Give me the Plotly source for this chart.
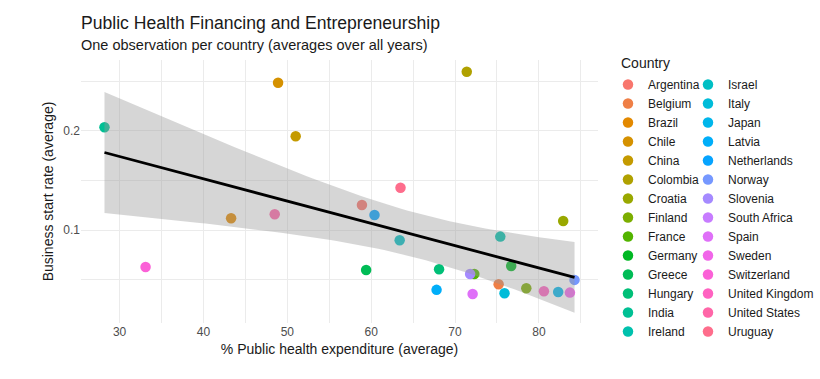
import math
import numpy as np
import plotly.graph_objects as go

# ---------------- data ----------------
countries = ["Argentina", "Belgium", "Brazil", "Chile", "China", "Colombia", "Croatia",
             "Finland", "France", "Germany", "Greece", "Hungary", "India", "Ireland",
             "Israel", "Italy", "Japan", "Latvia", "Netherlands", "Norway", "Slovenia",
             "South Africa", "Spain", "Sweden", "Switzerland", "United Kingdom",
             "United States", "Uruguay"]
health_exp = [58.9, 75.2, 43.3, 48.9, 51.0, 71.4, 82.9,
              78.5, 72.3, 76.7, 59.4, 68.1, 28.2, 75.4,
              63.4, 75.9, 82.3, 67.8, 60.4, 84.25, 71.8,
              None, 72.1, 83.7, 33.1, 80.6,
              48.5, 63.5]
start_rate = [0.1255, 0.0456, 0.1121, 0.2486, 0.1947, 0.2597, 0.1094,
              0.0416, 0.0560, 0.0640, 0.0600, 0.0607, 0.2037, 0.0936,
              0.0900, 0.0365, 0.0379, 0.0400, 0.1154, 0.0500, 0.0560,
              None, 0.0358, 0.0372, 0.0630, 0.0386,
              0.1161, 0.1429]
x_ticks = [30, 40, 50, 60, 70, 80]
y_ticks = [0.1, 0.2]
y_tick_labels = ["0.1", "0.2"]

FONT = "Liberation Sans, Arial, sans-serif"


# ggplot2 default hue palette (hcl, c=100, l=65)
def hcl_hex(h, c=100.0, l=65.0):
    Xn, Yn, Zn = 95.047, 100.0, 108.883
    un = 4 * Xn / (Xn + 15 * Yn + 3 * Zn)
    vn = 9 * Yn / (Xn + 15 * Yn + 3 * Zn)
    hr = math.radians(h)
    u, v = c * math.cos(hr), c * math.sin(hr)
    Y = Yn * ((l + 16) / 116) ** 3
    up = u / (13 * l) + un
    vp = v / (13 * l) + vn
    X = 9.0 * Y * up / (4 * vp)
    Z = -X / 3 - 5 * Y + 3 * Y / vp
    X, Y, Z = X / 100, Y / 100, Z / 100
    r = 3.240479 * X - 1.537150 * Y - 0.498535 * Z
    g = -0.969256 * X + 1.875992 * Y + 0.041556 * Z
    b = 0.055648 * X - 0.204043 * Y + 1.057311 * Z

    def gam(t):
        t = 12.92 * t if t <= 0.0031308 else 1.055 * t ** (1 / 2.4) - 0.055
        return int(round(max(0, min(1, t)) * 255))
    return "#%02X%02X%02X" % (gam(r), gam(g), gam(b))


n = len(countries)
hues = np.linspace(15, 375, n + 1)[:-1]
colors = [hcl_hex(h % 360) for h in hues]

# ---------------- linear fit with 95% CI ----------------
xs = np.array([a for a, b in zip(health_exp, start_rate) if a is not None and b is not None])
ys = np.array([b for a, b in zip(health_exp, start_rate) if a is not None and b is not None])
m = len(xs)
xbar = xs.mean()
sxx = ((xs - xbar) ** 2).sum()
slope = ((xs - xbar) * (ys - ys.mean())).sum() / sxx
icpt = ys.mean() - slope * xbar
resid = ys - (icpt + slope * xs)
s = math.sqrt((resid ** 2).sum() / (m - 2))


def t_quantile(p, df):
    def pdf(t):
        return math.gamma((df + 1) / 2) / (math.sqrt(df * math.pi) * math.gamma(df / 2)) * (1 + t * t / df) ** (-(df + 1) / 2)
    lo, hi = 0.0, 10.0
    for _ in range(60):
        mid = (lo + hi) / 2
        grid = np.linspace(0, mid, 2001)
        cdf = 0.5 + np.trapezoid([pdf(t) for t in grid], grid)
        if cdf < p:
            lo = mid
        else:
            hi = mid
    return (lo + hi) / 2


tq = t_quantile(0.975, m - 2)
xfit = np.linspace(xs.min(), xs.max(), 80)
yfit = icpt + slope * xfit
se = s * np.sqrt(1 / m + (xfit - xbar) ** 2 / sxx)
upper = yfit + tq * se
lower = yfit - tq * se

# ---------------- figure ----------------
fig = go.Figure()
for i, (c, xv, yv) in enumerate(zip(countries, health_exp, start_rate)):
    fig.add_trace(go.Scatter(
        x=[xv], y=[yv], mode="markers", name=c,
        marker=dict(color=colors[i], size=10.5, line=dict(width=0)),
        legend="legend" if i < 14 else "legend2",
        legendgroup=c,
        hovertemplate=c + "<br>%{x}<br>%{y}<extra></extra>",
    ))

fig.add_trace(go.Scatter(
    x=np.concatenate([xfit, xfit[::-1]]), y=np.concatenate([upper, lower[::-1]]),
    fill="toself", fillcolor="rgba(153,153,153,0.4)", line=dict(width=0),
    mode="lines", showlegend=False, hoverinfo="skip"))
fig.add_trace(go.Scatter(
    x=xfit, y=yfit, mode="lines", line=dict(color="black", width=2.8),
    showlegend=False, hoverinfo="skip"))

L, R, T, B = 81, 222, 60, 56
pw = 820 - L - R
ph = 379 - T - B


def px_x(p):
    return (p - L) / pw


def px_y(p):
    return 1 - (p - T) / ph


legend_common = dict(
    bgcolor="rgba(0,0,0,0)", borderwidth=0,
    font=dict(family=FONT, size=12, color="#1A1A1A"),
    xanchor="left", yanchor="top", tracegroupgap=0,
    itemclick=False, itemdoubleclick=False, maxheight=320,
)

fig.update_layout(
    width=820, height=379,
    margin=dict(l=L, r=R, t=T, b=B, autoexpand=False),
    paper_bgcolor="white", plot_bgcolor="white",
    font=dict(family=FONT, color="#1A1A1A"),
    title=dict(text="Public Health Financing and Entrepreneurship",
               x=L / 820, xanchor="left", xref="container",
               y=1 - 22.5 / 379, yanchor="middle", yref="container",
               font=dict(size=17.6, family=FONT, color="#1A1A1A")),
    annotations=[
        dict(text="One observation per country (averages over all years)",
             x=px_x(78.5), y=px_y(44.5), xref="paper", yref="paper",
             xanchor="left", yanchor="middle", showarrow=False,
             font=dict(size=14.5, family=FONT, color="#1A1A1A")),
        dict(text="Country", x=px_x(619), y=px_y(62.5), xref="paper", yref="paper",
             xanchor="left", yanchor="middle", showarrow=False,
             font=dict(size=14, family=FONT, color="#1A1A1A")),
    ],
    legend=dict(x=px_x(608), y=px_y(70), **legend_common),
    legend2=dict(x=px_x(688), y=px_y(70), **legend_common),
    xaxis=dict(
        range=[25.4, 87.05], tickvals=x_ticks, ticktext=[str(v) for v in x_ticks],
        showgrid=True, gridcolor="#EBEBEB", gridwidth=1.1, zeroline=False,
        showline=False, ticks="",
        tickfont=dict(size=12, family=FONT, color="#4D4D4D"),
        title=dict(text="% Public health expenditure (average)",
                   font=dict(size=14, family=FONT, color="#1A1A1A"), standoff=6),
        minor=dict(tickvals=[35, 45, 55, 65, 75, 85], showgrid=True,
                   gridcolor="#EBEBEB", gridwidth=0.6),
    ),
    yaxis=dict(
        range=[0.0066, 0.2715], tickvals=y_ticks, ticktext=y_tick_labels,
        showgrid=True, gridcolor="#EBEBEB", gridwidth=1.1, zeroline=False,
        showline=False, ticks="",
        tickfont=dict(size=12, family=FONT, color="#4D4D4D"),
        title=dict(text="Business start rate (average)",
                   font=dict(size=14, family=FONT, color="#1A1A1A"), standoff=6),
        minor=dict(tickvals=[0.05, 0.15, 0.25], showgrid=True,
                   gridcolor="#EBEBEB", gridwidth=0.6),
    ),
)

fig.write_html("out.html", post_script="document.body.style.margin='0';",
               config={"displayModeBar": False})
